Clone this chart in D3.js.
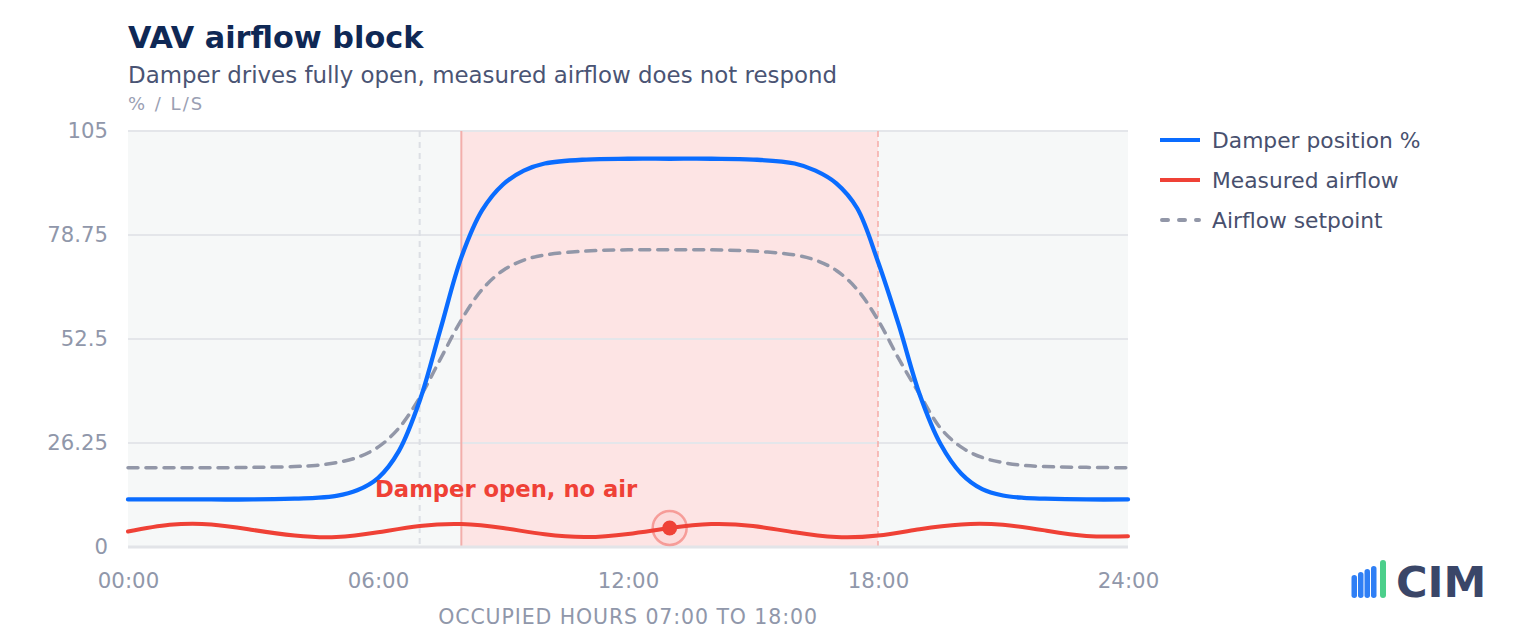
<!DOCTYPE html>
<html>
<head>
<meta charset="utf-8">
<script src="https://cdn.jsdelivr.net/npm/d3@7"></script>
<style>
  html, body { margin: 0; padding: 0; background: #ffffff; }
  svg { display: block; font-family: "DejaVu Sans", sans-serif; }
</style>
</head>
<body>
<svg id="chart" width="1520" height="640"></svg>
<script>
// ---- data ----
const hours = [0,1,2,3,4,4.5,5,5.5,6,6.5,7,7.5,8,8.5,9,9.5,10,11,12,13,14,15,16,16.5,17,17.5,18,18.5,19,19.5,20,20.5,21,21.5,22,23,24];
const damperPosition = [12,12,12,12,12.2,12.4,12.9,14.3,17.4,24.2,36.9,55,73.1,85,91.5,95,96.8,97.8,98,98,98,97.8,96.8,95,91.8,85.5,72,56,38.5,26,18.5,14.6,13,12.4,12.2,12,12];
const airflowSetpoint = [20,20,20,20.1,20.3,20.6,21.3,22.6,25.2,30,37.7,47.5,57.3,65,69.8,72.4,73.7,74.7,75,75,75,74.7,73.7,72.4,69.8,65,57.3,47.5,38.5,30,25.2,22.6,21.3,20.6,20.3,20.1,20];
const measuredHours = [0,1,2,3,4,5,6,7,8,9,10,11,12,13,14,15,16,17,18,19,20,21,22,23,24];
const measuredAirflow = [3.9,5.6,5.7,4.3,2.9,2.5,3.7,5.3,5.8,4.8,3.2,2.5,3.3,4.8,5.8,5.3,3.7,2.5,2.9,4.5,5.7,5.6,4.2,2.8,2.7];
const yTicks = [0, 26.25, 52.5, 78.75, 105];
const xTicks = [0, 6, 12, 18, 24];
const xTickLabels = ["00:00", "06:00", "12:00", "18:00", "24:00"];
const occupiedStart = 7;
const faultWindow = [8, 18];
const markerHour = 13;
const seriesNames = ["Damper position %", "Measured airflow", "Airflow setpoint"];
const titleText = "VAV airflow block";
const subtitleText = "Damper drives fully open, measured airflow does not respond";
const unitText = "% / L/S";
const xAxisTitle = "OCCUPIED HOURS 07:00 TO 18:00";
const annotationText = "Damper open, no air";

// ---- layout ----
const svg = d3.select("#chart");
const plot = { left: 128, right: 1128, top: 131, bottom: 547 };
const x = d3.scaleLinear().domain([0, 24]).range([plot.left, plot.right]);
const y = d3.scaleLinear().domain([0, 105]).range([plot.bottom, plot.top]);

const C = {
  blue: "#0a6cff", red: "#ef4136", gray: "#9297a8",
  title: "#0f2855", subtitle: "#4a5474", unit: "#9aa0b3", tick: "#9097aa",
  legend: "#48506e", grid: "#e4e6ea", bg: "#f6f8f8", band: "#fde4e4"
};

// titles
svg.append("text").attr("x", 128).attr("y", 48).attr("font-size", 30.3).attr("font-weight", "bold")
  .attr("fill", C.title).text(titleText);
svg.append("text").attr("x", 128).attr("y", 83).attr("font-size", 22.9)
  .attr("fill", C.subtitle).text(subtitleText);
svg.append("text").attr("x", 128).attr("y", 110).attr("font-size", 18).attr("letter-spacing", 2)
  .attr("fill", C.unit).text(unitText);

// plot background
svg.append("rect").attr("x", plot.left).attr("y", plot.top)
  .attr("width", plot.right - plot.left).attr("height", plot.bottom - plot.top).attr("fill", C.bg);

// fault band
svg.append("rect").attr("x", x(faultWindow[0])).attr("y", plot.top)
  .attr("width", x(faultWindow[1]) - x(faultWindow[0])).attr("height", plot.bottom - plot.top)
  .attr("fill", C.band);

// gridlines
svg.append("g").selectAll("line").data(yTicks.filter(d => d > 0)).join("line")
  .attr("x1", plot.left).attr("x2", plot.right)
  .attr("y1", d => y(d)).attr("y2", d => y(d))
  .attr("stroke", C.grid).attr("stroke-width", 2);

// vertical markers
svg.append("line").attr("x1", x(occupiedStart)).attr("x2", x(occupiedStart))
  .attr("y1", plot.top).attr("y2", plot.bottom)
  .attr("stroke", "#dcdfe4").attr("stroke-width", 2).attr("stroke-dasharray", "6,5");
svg.append("line").attr("x1", x(faultWindow[0])).attr("x2", x(faultWindow[0]))
  .attr("y1", plot.top).attr("y2", plot.bottom)
  .attr("stroke", "#f3aeab").attr("stroke-width", 2);
svg.append("line").attr("x1", x(faultWindow[1])).attr("x2", x(faultWindow[1]))
  .attr("y1", plot.top).attr("y2", plot.bottom)
  .attr("stroke", "#f6aaa6").attr("stroke-width", 1.5).attr("stroke-dasharray", "6,4");

// base line
svg.append("line").attr("x1", plot.left).attr("x2", plot.right)
  .attr("y1", y(0)).attr("y2", y(0)).attr("stroke", "#e2e4e8").attr("stroke-width", 3);

// y axis labels
const yAxis = d3.axisLeft(y).tickValues(yTicks).tickSize(0).tickPadding(20)
  .tickFormat(d => d3.format("")(d));
const gy = svg.append("g").attr("transform", `translate(${plot.left},0)`).call(yAxis);
gy.select(".domain").remove();
gy.selectAll("text").attr("font-size", 21.2).attr("fill", C.tick).attr("font-family", "DejaVu Sans");

// x axis labels
const xAxis = d3.axisBottom(x).tickValues(xTicks).tickSize(0).tickPadding(0)
  .tickFormat((d, i) => xTickLabels[i]);
const gx = svg.append("g").attr("transform", `translate(0,${plot.bottom})`).call(xAxis);
gx.select(".domain").remove();
gx.selectAll("text").attr("font-size", 21.3).attr("fill", C.tick).attr("font-family", "DejaVu Sans")
  .attr("dy", null).attr("y", 41);

svg.append("text").attr("x", (plot.left + plot.right) / 2).attr("y", 624)
  .attr("text-anchor", "middle").attr("font-size", 20.5).attr("letter-spacing", 0.9)
  .attr("fill", C.tick).text(xAxisTitle);

// lines
const lineCR = d3.line().x(d => x(d[0])).y(d => y(d[1])).curve(d3.curveCatmullRom.alpha(0.5));
const lineNat = d3.line().x(d => x(d[0])).y(d => y(d[1])).curve(d3.curveNatural);

svg.append("path").datum(hours.map((h, i) => [h, airflowSetpoint[i]]))
  .attr("d", lineCR).attr("fill", "none").attr("stroke", C.gray).attr("stroke-width", 3.5)
  .attr("stroke-dasharray", "10,8").attr("stroke-linecap", "round");
svg.append("path").datum(hours.map((h, i) => [h, damperPosition[i]]))
  .attr("d", lineCR).attr("fill", "none").attr("stroke", C.blue).attr("stroke-width", 4.3)
  .attr("stroke-linecap", "round");
svg.append("path").datum(measuredHours.map((h, i) => [h, measuredAirflow[i]]))
  .attr("d", lineNat).attr("fill", "none").attr("stroke", C.red).attr("stroke-width", 4)
  .attr("stroke-linecap", "round");

// marker
const mIdx = measuredHours.indexOf(markerHour);
const mx = x(markerHour), my = y(measuredAirflow[mIdx]);
svg.append("circle").attr("cx", mx).attr("cy", my).attr("r", 17)
  .attr("fill", "#ef4136").attr("fill-opacity", 0.05)
  .attr("stroke", "#ef4136").attr("stroke-opacity", 0.42).attr("stroke-width", 2.5);
svg.append("circle").attr("cx", mx).attr("cy", my).attr("r", 7.5).attr("fill", C.red);

// annotation
svg.append("text").attr("x", 375).attr("y", 497).attr("font-size", 22.7).attr("font-weight", "bold")
  .attr("fill", C.red).text(annotationText);

// legend
const legendColors = [C.blue, C.red, C.gray];
const lg = svg.append("g");
seriesNames.forEach((name, i) => {
  const ly = 140 + i * 40;
  const ln = lg.append("line").attr("y1", ly).attr("y2", ly)
    .attr("stroke", legendColors[i]).attr("stroke-width", 4);
  if (i === 2) ln.attr("x1", 1162).attr("x2", 1199).attr("stroke-dasharray", "6,11").attr("stroke-linecap", "round");
  else ln.attr("x1", 1160).attr("x2", 1200);
  lg.append("text").attr("x", 1212).attr("y", ly).attr("dy", "0.35em").attr("font-size", 21.8)
    .attr("fill", C.legend).text(name);
});

// logo
const logo = svg.append("g");
const bars = [[1351.5, 575], [1358, 572], [1364.5, 569], [1371, 566]];
bars.forEach(b => {
  logo.append("rect").attr("x", b[0]).attr("y", b[1]).attr("width", 5.5).attr("height", 598 - b[1])
    .attr("rx", 2.75).attr("fill", "#2f7ff5");
});
logo.append("rect").attr("x", 1380).attr("y", 560).attr("width", 6).attr("height", 38)
  .attr("rx", 3).attr("fill", "#4ccf8b");
logo.append("text").attr("x", 1396).attr("y", 597).attr("font-size", 43).attr("font-weight", "bold")
  .attr("fill", "#3a4668").text("CIM");
</script>
</body>
</html>
